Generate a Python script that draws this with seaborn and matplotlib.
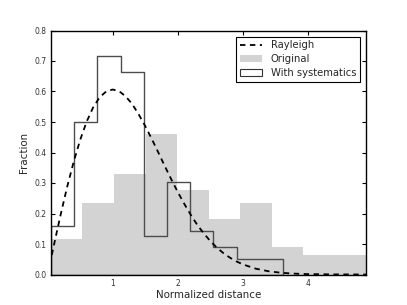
import matplotlib
matplotlib.use("Agg")
import matplotlib.pyplot as plt
import numpy as np
import seaborn as sns
from matplotlib.lines import Line2D
from matplotlib.patches import Patch

# histogram of the original sample (normalised)
orig_edges = [0.05, 0.535, 1.02, 1.505, 1.99, 2.475, 2.96, 3.445, 3.93, 4.415, 4.9]
orig_frac = [0.117, 0.236, 0.328, 0.46, 0.276, 0.183, 0.236, 0.09, 0.065, 0.065]

# histogram with systematics applied
syst_edges = [0.05, 0.407, 0.764, 1.121, 1.478, 1.835, 2.192, 2.549, 2.906, 3.263, 3.62]
syst_frac = [0.16, 0.5, 0.717, 0.663, 0.125, 0.302, 0.142, 0.089, 0.052, 0.052]

# Rayleigh curve
ray_x = [0.0, 0.1, 0.2, 0.3, 0.4, 0.5, 0.6, 0.7, 0.8, 0.9, 1.0, 1.1, 1.2, 1.3,
         1.4, 1.5, 1.6, 1.7, 1.8, 1.9, 2.0, 2.1, 2.2, 2.3, 2.4, 2.5, 2.6, 2.7,
         2.8, 2.9, 3.0, 3.2, 3.4, 3.6, 3.8, 4.0, 4.4, 4.9]
ray_y = [0.0, 0.0995, 0.196, 0.287, 0.369, 0.441, 0.501, 0.548, 0.581, 0.600,
         0.6065, 0.601, 0.584, 0.559, 0.525, 0.487, 0.445, 0.401, 0.356, 0.3125,
         0.271, 0.232, 0.196, 0.163, 0.135, 0.110, 0.0885, 0.0705, 0.0556,
         0.0433, 0.0333, 0.0191, 0.0105, 0.0055, 0.0028, 0.0013, 0.0003, 0.0]

sns.set_style("ticks", {
    "xtick.direction": "in", "ytick.direction": "in",
    "xtick.top": True, "ytick.right": True,
    "axes.edgecolor": "black",
})
plt.rcParams["font.family"] = ["DejaVu Sans"]

fig, ax = plt.subplots(figsize=(4.07, 3.05), dpi=100)
fig.subplots_adjust(left=0.125, right=0.9, bottom=0.1, top=0.9)

orig_mid = (np.array(orig_edges[:-1]) + np.array(orig_edges[1:])) / 2
syst_mid = (np.array(syst_edges[:-1]) + np.array(syst_edges[1:])) / 2

sns.histplot(x=orig_mid, weights=orig_frac, bins=orig_edges, stat="count",
             element="bars", color="lightgray", edgecolor="none", linewidth=0,
             alpha=1, ax=ax)
sns.histplot(x=syst_mid, weights=syst_frac, bins=syst_edges, stat="count",
             element="step", fill=True, color="0.3", facecolor="none",
             edgecolor="0.3", linewidth=1.0, alpha=1, ax=ax)
sns.lineplot(x=ray_x, y=ray_y, color="black", linewidth=1.3, ax=ax)
ax.lines[-1].set_dashes((3, 2.5))

ax.set_xlim(0.05, 4.9)
ax.set_ylim(0, 0.8)
ax.set_xticks([1, 2, 3, 4])
ax.set_yticks(np.arange(0, 0.81, 0.1))
ax.set_yticklabels([f"{v:.1f}" for v in np.arange(0, 0.81, 0.1)])
ax.tick_params(labelsize=5.5, length=3, width=0.8, colors="black",
               labelcolor="0.2", pad=3)
ax.set_xlabel("Normalized distance", fontsize=7.4, labelpad=2)
ax.set_ylabel("Fraction", fontsize=7.4, labelpad=4)
for s in ax.spines.values():
    s.set_linewidth(1.0)

handles = [
    Line2D([], [], color="black", linewidth=1.3, dashes=(3, 2.5)),
    Patch(facecolor="lightgray", edgecolor="none"),
    Patch(facecolor="white", edgecolor="0.2", linewidth=0.8),
]
leg = ax.legend(handles, ["Rayleigh", "Original", "With systematics"],
                loc="upper right", fontsize=7.2, frameon=True, fancybox=False,
                framealpha=1, edgecolor="black", borderaxespad=0.6,
                handlelength=2.2, handletextpad=0.9, labelspacing=0.35,
                borderpad=0.4)
leg.get_frame().set_linewidth(0.8)

fig.savefig("out.png", dpi=100)
